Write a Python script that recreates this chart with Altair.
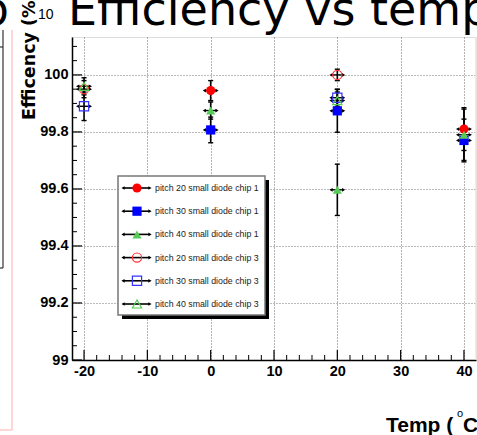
import altair as alt
import pandas as pd

# ---- measurements: efficiency (%) vs temperature (deg C) ----
series_names = [
    "pitch 20 small diode chip 1",
    "pitch 30 small diode chip 1",
    "pitch 40 small diode chip 1",
    "pitch 20 small diode chip 3",
    "pitch 30 small diode chip 3",
    "pitch 40 small diode chip 3",
]
series_colors = ["#ff0000", "#0000ff", "#55cc55", "#ff3333", "#3333ff", "#55cc55"]
series_shapes = ["circle", "square", "triangle-up", "circle", "square", "triangle-up"]
series_filled = [True, True, True, False, False, False]

p20_chip1_temp = [0, 40]
p20_chip1_eff = [99.945, 99.81]
p20_chip1_err = [0.035, 0.075]

p30_chip1_temp = [0, 20, 40]
p30_chip1_eff = [99.807, 99.874, 99.77]
p30_chip1_err = [0.045, 0.075, 0.075]

p40_chip1_temp = [0, 20, 40]
p40_chip1_eff = [99.875, 99.597, 99.79]
p40_chip1_err = [0.03, 0.09, 0.09]

p20_chip3_temp = [-20, 20]
p20_chip3_eff = [99.95, 100.0]
p20_chip3_err = [0.03, 0.02]

p30_chip3_temp = [-20, 20]
p30_chip3_eff = [99.89, 99.92]
p30_chip3_err = [0.05, 0.03]

p40_chip3_temp = [-20, 20]
p40_chip3_eff = [99.96, 99.91]
p40_chip3_err = [0.03, 0.03]

temp_err = 1.0

x_major = [-20, -10, 0, 10, 20, 30, 40]
x_minor = [-18, -16, -14, -12, -8, -6, -4, -2, 2, 4, 6, 8, 12, 14, 16, 18,
           22, 24, 26, 28, 32, 34, 36, 38]
y_major = [99.0, 99.2, 99.4, 99.6, 99.8, 100.0]
y_minor = [99.05, 99.1, 99.15, 99.25, 99.3, 99.35, 99.45, 99.5, 99.55,
           99.65, 99.7, 99.75, 99.85, 99.9, 99.95, 100.05, 100.1]

title_text = "Efficiency vs temp"
title_prefix = "p"
y_title = "Efficency (%)"
y_exp = "10"
x_title_main = "Temp ("
x_title_sup = "o"
x_title_end = "C)"

# ---- tables ----
rows = []
for name, t, e, er in [
    (series_names[0], p20_chip1_temp, p20_chip1_eff, p20_chip1_err),
    (series_names[1], p30_chip1_temp, p30_chip1_eff, p30_chip1_err),
    (series_names[2], p40_chip1_temp, p40_chip1_eff, p40_chip1_err),
    (series_names[3], p20_chip3_temp, p20_chip3_eff, p20_chip3_err),
    (series_names[4], p30_chip3_temp, p30_chip3_eff, p30_chip3_err),
    (series_names[5], p40_chip3_temp, p40_chip3_eff, p40_chip3_err),
]:
    for ti, ei, eri in zip(t, e, er):
        rows.append({"series": name, "temp": ti, "eff": ei, "err": eri,
                     "filled": series_filled[series_names.index(name)]})
points = pd.DataFrame(rows)
points["lo"] = points["eff"] - points["err"]
points["hi"] = points["eff"] + points["err"]
points["tlo"] = points["temp"] - temp_err
points["thi"] = points["temp"] + temp_err
points["clo"] = points["temp"] - 0.4
points["chi"] = points["temp"] + 0.4

legend_df = pd.DataFrame({"series": series_names,
                          "row": list(range(len(series_names))),
                          "filled": series_filled})

W, H = 404, 323
FONT = "Liberation Sans, Arial, sans-serif"

xs = alt.Scale(domain=[-21.9, 41.9], nice=False, zero=False)
ys = alt.Scale(domain=[99.0, 100.133], nice=False, zero=False)
col = alt.Scale(domain=series_names, range=series_colors)
shp = alt.Scale(domain=series_names, range=series_shapes)
legend_y = alt.Scale(domain=[0, 5], range=[151, 267], nice=False, zero=False)

X = lambda f: alt.X(f, type="quantitative", scale=xs, axis=None)
Y = lambda f: alt.Y(f, type="quantitative", scale=ys, axis=None)

# axes with dotted grid lines
axes = alt.Chart(points).mark_point(opacity=0).encode(
    x=alt.X("temp:Q", scale=xs, title=None,
            axis=alt.Axis(values=x_major, labelExpr="toString(datum.value)",
                          grid=True, gridDash=[1, 2],
                          gridColor="#666", gridWidth=1, ticks=False,
                          domainColor="black", domainWidth=1.5,
                          labelFont=FONT, labelFontSize=14.5, labelFontWeight="bold",
                          labelColor="black", labelPadding=4, labelFlush=False)),
    y=alt.Y("eff:Q", scale=ys, title=None,
            axis=alt.Axis(values=y_major, format=".1~f", grid=True, gridDash=[1, 2],
                          gridColor="#777", gridWidth=1, ticks=False,
                          domainColor="black", domainWidth=1.5,
                          labelFont=FONT, labelFontSize=14.5, labelFontWeight="bold",
                          labelColor="black", labelPadding=4, labelFlush=False)),
)

# inward tick marks
ymaj = alt.Chart(pd.DataFrame({"v": y_major})).mark_rule(color="black", strokeWidth=1.2).encode(
    y=Y("v"), x=alt.value(0), x2=alt.value(10))
ymin = alt.Chart(pd.DataFrame({"v": y_minor})).mark_rule(color="black", strokeWidth=1).encode(
    y=Y("v"), x=alt.value(0), x2=alt.value(5))
xmaj = alt.Chart(pd.DataFrame({"v": x_major})).mark_rule(color="black", strokeWidth=1.2).encode(
    x=X("v"), y=alt.value(H), y2=alt.value(H - 10))
xmin = alt.Chart(pd.DataFrame({"v": x_minor})).mark_rule(color="black", strokeWidth=1).encode(
    x=X("v"), y=alt.value(H), y2=alt.value(H - 5))

# error bars
base = alt.Chart(points)
vbar = base.mark_rule(color="black", strokeWidth=1.6).encode(x=X("temp"), y=Y("lo"), y2="hi")
vcap_lo = base.mark_rule(color="black", strokeWidth=1.4).encode(x=X("clo"), x2="chi", y=Y("lo"))
vcap_hi = base.mark_rule(color="black", strokeWidth=1.4).encode(x=X("clo"), x2="chi", y=Y("hi"))
hbar = base.mark_rule(color="black", strokeWidth=1.4).encode(x=X("tlo"), x2="thi", y=Y("eff"))
harr_l = base.mark_point(shape="triangle-left", filled=True, color="black", size=14, opacity=1).encode(
    x=X("tlo"), y=Y("eff"))
harr_r = base.mark_point(shape="triangle-right", filled=True, color="black", size=14, opacity=1).encode(
    x=X("thi"), y=Y("eff"))

# markers
filled_pts = base.transform_filter("datum.filled").mark_point(
    filled=True, size=85, opacity=1, strokeWidth=0).encode(
    x=X("temp"), y=Y("eff"),
    color=alt.Color("series:N", scale=col, legend=None),
    shape=alt.Shape("series:N", scale=shp, legend=None))
open_pts = base.transform_filter("!datum.filled").mark_point(
    filled=False, size=85, opacity=1, strokeWidth=1.2).encode(
    x=X("temp"), y=Y("eff"),
    color=alt.Color("series:N", scale=col, legend=None),
    shape=alt.Shape("series:N", scale=shp, legend=None))

# legend box drawn inside the plot
one = pd.DataFrame({"k": [0]})
lshadow = alt.Chart(one).mark_rect(color="black").encode(
    x=alt.value(50), x2=alt.value(197), y=alt.value(143), y2=alt.value(282))
lbox = alt.Chart(one).mark_rect(fill="white", stroke="#777", strokeWidth=1.5).encode(
    x=alt.value(46), x2=alt.value(193), y=alt.value(139), y2=alt.value(278))
lg = alt.Chart(legend_df)
LY = alt.Y("row:Q", scale=legend_y, axis=None)
lline = lg.mark_rule(color="black", strokeWidth=1.6).encode(x=alt.value(51), x2=alt.value(78), y=LY)
larr_l = lg.mark_point(shape="triangle-left", filled=True, color="black", size=14, opacity=1).encode(
    x=alt.value(51), y=LY)
larr_r = lg.mark_point(shape="triangle-right", filled=True, color="black", size=14, opacity=1).encode(
    x=alt.value(78), y=LY)
lfill = lg.transform_filter("datum.filled").mark_point(filled=True, size=85, opacity=1, strokeWidth=0).encode(
    x=alt.value(65), y=LY,
    color=alt.Color("series:N", scale=col, legend=None),
    shape=alt.Shape("series:N", scale=shp, legend=None))
lopen = lg.transform_filter("!datum.filled").mark_point(filled=False, size=85, opacity=1, strokeWidth=1.2).encode(
    x=alt.value(65), y=LY,
    color=alt.Color("series:N", scale=col, legend=None),
    shape=alt.Shape("series:N", scale=shp, legend=None))
ltext = lg.mark_text(align="left", baseline="middle", font=FONT, fontSize=8.8,
                     color="#222").encode(x=alt.value(83), y=LY, text="series:N")

# titles and surrounding frame pieces
def txt(s, **kw):
    return alt.Chart(pd.DataFrame({"t": [s]})).mark_text(**kw).encode(text="t:N")

title = txt(title_text, align="left", baseline="alphabetic", font="DejaVu Sans", fontSize=46,
            color="black", x=-4, y=-12)
title_pre = txt(title_prefix, align="right", baseline="alphabetic", font="DejaVu Sans", fontSize=46,
                color="black", x=-63, y=-12)
ytitle = txt(y_title, align="left", baseline="middle", angle=270, font="DejaVu Sans",
             fontWeight="bold", fontSize=17.5, color="black", x=-42, y=83)
yexp = txt(y_exp, align="left", baseline="alphabetic", font=FONT, fontSize=14,
           color="black", x=-34, y=-18)
xt1 = txt(x_title_main, align="left", baseline="alphabetic", font=FONT, fontWeight="bold",
          fontSize=21, color="black", x=314, y=395)
xt2 = txt(x_title_sup, align="left", baseline="alphabetic", font=FONT, fontSize=11,
          color="black", x=385, y=380)
xt3 = txt(x_title_end, align="left", baseline="alphabetic", font=FONT, fontWeight="bold",
          fontSize=21, color="black", x=391, y=395)

frame = pd.DataFrame({"k": [0]})
def seg(x1, x2, y1, y2, color, w):
    return alt.Chart(frame).mark_rule(color=color, strokeWidth=w).encode(
        x=alt.value(x1), x2=alt.value(x2), y=alt.value(y1), y2=alt.value(y2))

decor = [
    seg(-69, -69, -7, 231, "#333", 1.2),
    seg(-72, -69, 10, 10, "#333", 1.2),
    seg(-72, -69, 231, 231, "#333", 1.2),
    seg(-60, -60, -7, 393, "#ffc8c8", 1.5),
    seg(-72, -60, 393, 393, "#ffc8c8", 1.5),
    seg(404, 404, 0, 323, "#ffd8d8", 1.2),
]

chart = alt.layer(
    axes, *decor, ymaj, ymin, xmaj, xmin,
    vbar, vcap_lo, vcap_hi, hbar, harr_l, harr_r, filled_pts, open_pts,
    lshadow, lbox, lline, larr_l, larr_r, lfill, lopen, ltext,
    title, title_pre, ytitle, yexp, xt1, xt2, xt3,
).resolve_scale(x="independent", y="independent").properties(
    width=W, height=H, autosize="none",
    padding={"left": 72, "top": 37, "right": 1, "bottom": 75},
).configure_view(stroke=None).configure(background="white")

chart.save("out.html", embed_options={"renderer": "svg", "actions": False})
